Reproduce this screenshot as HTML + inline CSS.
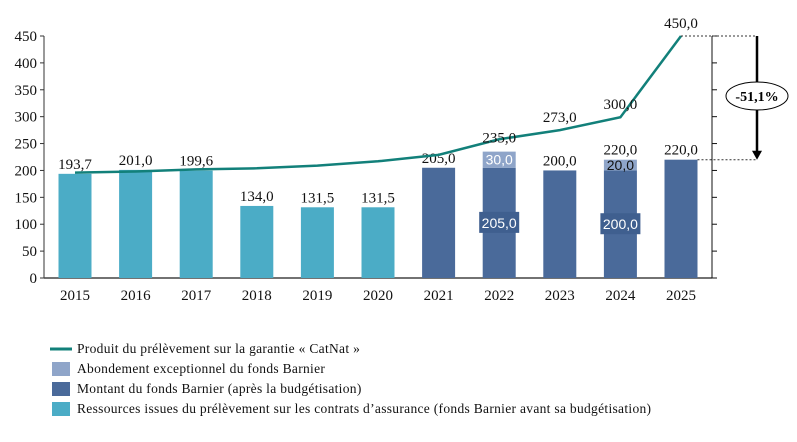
<!DOCTYPE html>
<html><head><meta charset="utf-8"><style>
body{margin:0;background:#fff;}
svg{display:block;font-family:"Liberation Serif",serif;}
</style></head><body>
<svg id="chart" width="797" height="442"></svg>
<script>
const years=["2015","2016","2017","2018","2019","2020","2021","2022","2023","2024","2025"];
const preBudget=[193.7,201.0,199.6,134.0,131.5,131.5,0,0,0,0,0];
const barnierFund=[0,0,0,0,0,0,205.0,205.0,200.0,200.0,220.0];
const exceptional=[0,0,0,0,0,0,0,30.0,0,20.0,0];
const catnatLine=[196,198,202,204,209,217,229,258,275,299,450];
const lineLabels=["","","","","","","","235,0","273,0","300,0","450,0"];
const totalLabels=["193,7","201,0","199,6","134,0","131,5","131,5","205,0","","200,0","220,0","220,0"];
const yTicks=[0,50,100,150,200,250,300,350,400,450];
const NS="http://www.w3.org/2000/svg";
const svg=document.getElementById('chart');
const x0=44,x1=712,yBase=278,yTop=36,step=60.6,firstC=75,bw=33;
const X=i=>firstC+i*step;
const Y=v=>yBase-(v/450)*(yBase-yTop);
function el(t,a,txt){const e=document.createElementNS(NS,t);for(const k in a)e.setAttribute(k,a[k]);if(txt!==undefined)e.textContent=txt;svg.appendChild(e);return e;}
let e=el('line',{x1:x0,y1:yTop,x2:x0,y2:yBase,stroke:'#333','stroke-width':1});

e=el('line',{x1:x0,y1:yBase,x2:x1,y2:yBase,stroke:'#444','stroke-width':1.5});

e=el('line',{x1:x1,y1:yTop,x2:x1,y2:yBase,stroke:'#111','stroke-width':1});

yTicks.forEach(v=>{
 e=el('line',{x1:x0-4,y1:Y(v),x2:x0,y2:Y(v),stroke:'#333'});
 
 e=el('line',{x1:x1,y1:Y(v),x2:x1+5,y2:Y(v),stroke:'#111'});
 
 e=el('text',{x:x0-7,y:Y(v)+5,'text-anchor':'end','font-size':15,fill:'#111'},String(v));
 
});
years.forEach((yr,i)=>{
 const c=X(i);
 if(preBudget[i]>0){e=el('rect',{x:c-bw/2,y:Y(preBudget[i]),width:bw,height:yBase-Y(preBudget[i]),fill:'#4bacc6'});
  }
 if(barnierFund[i]>0){e=el('rect',{x:c-bw/2,y:Y(barnierFund[i]),width:bw,height:yBase-Y(barnierFund[i]),fill:'#4a6a9a'});
  }
 if(exceptional[i]>0){const top=barnierFund[i]+exceptional[i];
  e=el('rect',{x:c-bw/2,y:Y(top),width:bw,height:Y(barnierFund[i])-Y(top),fill:'#8fa5c9'});
  
  e=el('text',{x:c,y:(Y(top)+Y(barnierFund[i]))/2+5,'text-anchor':'middle','font-family':'Liberation Sans, sans-serif','font-size':14,fill:i===7?'#fff':'#111'},exceptional[i].toFixed(1).replace('.',','));
  
  e=el('rect',{x:c-20,y:Y(barnierFund[i]/2)-11,width:40,height:21,fill:'#3f5f8f'});
  
  e=el('text',{x:c,y:Y(barnierFund[i]/2)+5,'text-anchor':'middle','font-family':'Liberation Sans, sans-serif','font-size':14,fill:'#fff'},barnierFund[i].toFixed(1).replace('.',','));
  
 }
 const tot=preBudget[i]+barnierFund[i]+exceptional[i];
 if(totalLabels[i]){e=el('text',{x:c,y:Y(tot)-5,'text-anchor':'middle','font-size':15,fill:'#111'},totalLabels[i]);
  }
 e=el('text',{x:c,y:300,'text-anchor':'middle','font-size':15,fill:'#111'},yr);
 
});
e=el('polyline',{points:catnatLine.map((v,i)=>X(i)+','+Y(v)).join(' '),fill:'none',stroke:'#12807a','stroke-width':2.5});

lineLabels.forEach((l,i)=>{ if(!l)return;
 e=el('text',{x:X(i),y:i===7?Y(catnatLine[i])+3:Y(catnatLine[i])-8,'text-anchor':'middle','font-size':15,fill:'#111'},l);
 
});
const ax=757,yA=Y(catnatLine[10]),yB=Y(barnierFund[10]);
e=el('line',{x1:X(10),y1:yA,x2:ax,y2:yA,stroke:'#333','stroke-dasharray':'2,2'});

e=el('line',{x1:X(10)+bw/2,y1:yB,x2:ax,y2:yB,stroke:'#333','stroke-dasharray':'2,2'});

e=el('line',{x1:ax,y1:yA,x2:ax,y2:yB-8,stroke:'#000','stroke-width':2.5});

e=el('polygon',{points:`${ax-5},${yB-9} ${ax+5},${yB-9} ${ax},${yB}`,fill:'#000'});

e=el('ellipse',{cx:ax,cy:96,rx:31,ry:14,fill:'#fff',stroke:'#000'});

e=el('text',{x:ax,y:101,'text-anchor':'middle','font-size':14,'font-weight':'bold',fill:'#000'},'-51,1%');

const leg=[['line','#12807a','Produit du prélèvement sur la garantie « CatNat »'],['sq','#8fa5c9','Abondement exceptionnel du fonds Barnier'],['sq','#4a6a9a','Montant du fonds Barnier (après la budgétisation)'],['sq','#4bacc6','Ressources issues du prélèvement sur les contrats d’assurance (fonds Barnier avant sa budgétisation)']];
leg.forEach((l,i)=>{const y=349+i*20;
 if(l[0]==='line'){e=el('line',{x1:50,y1:y,x2:72,y2:y,stroke:l[1],'stroke-width':3});}
 else{e=el('rect',{x:52,y:y-7,width:18,height:14,fill:l[1]});}
 
 e=el('text',{x:77,y:y+4,'font-size':13.5,'letter-spacing':'0.3',fill:'#111'},l[2]);
 
});
</script>
</body></html>
